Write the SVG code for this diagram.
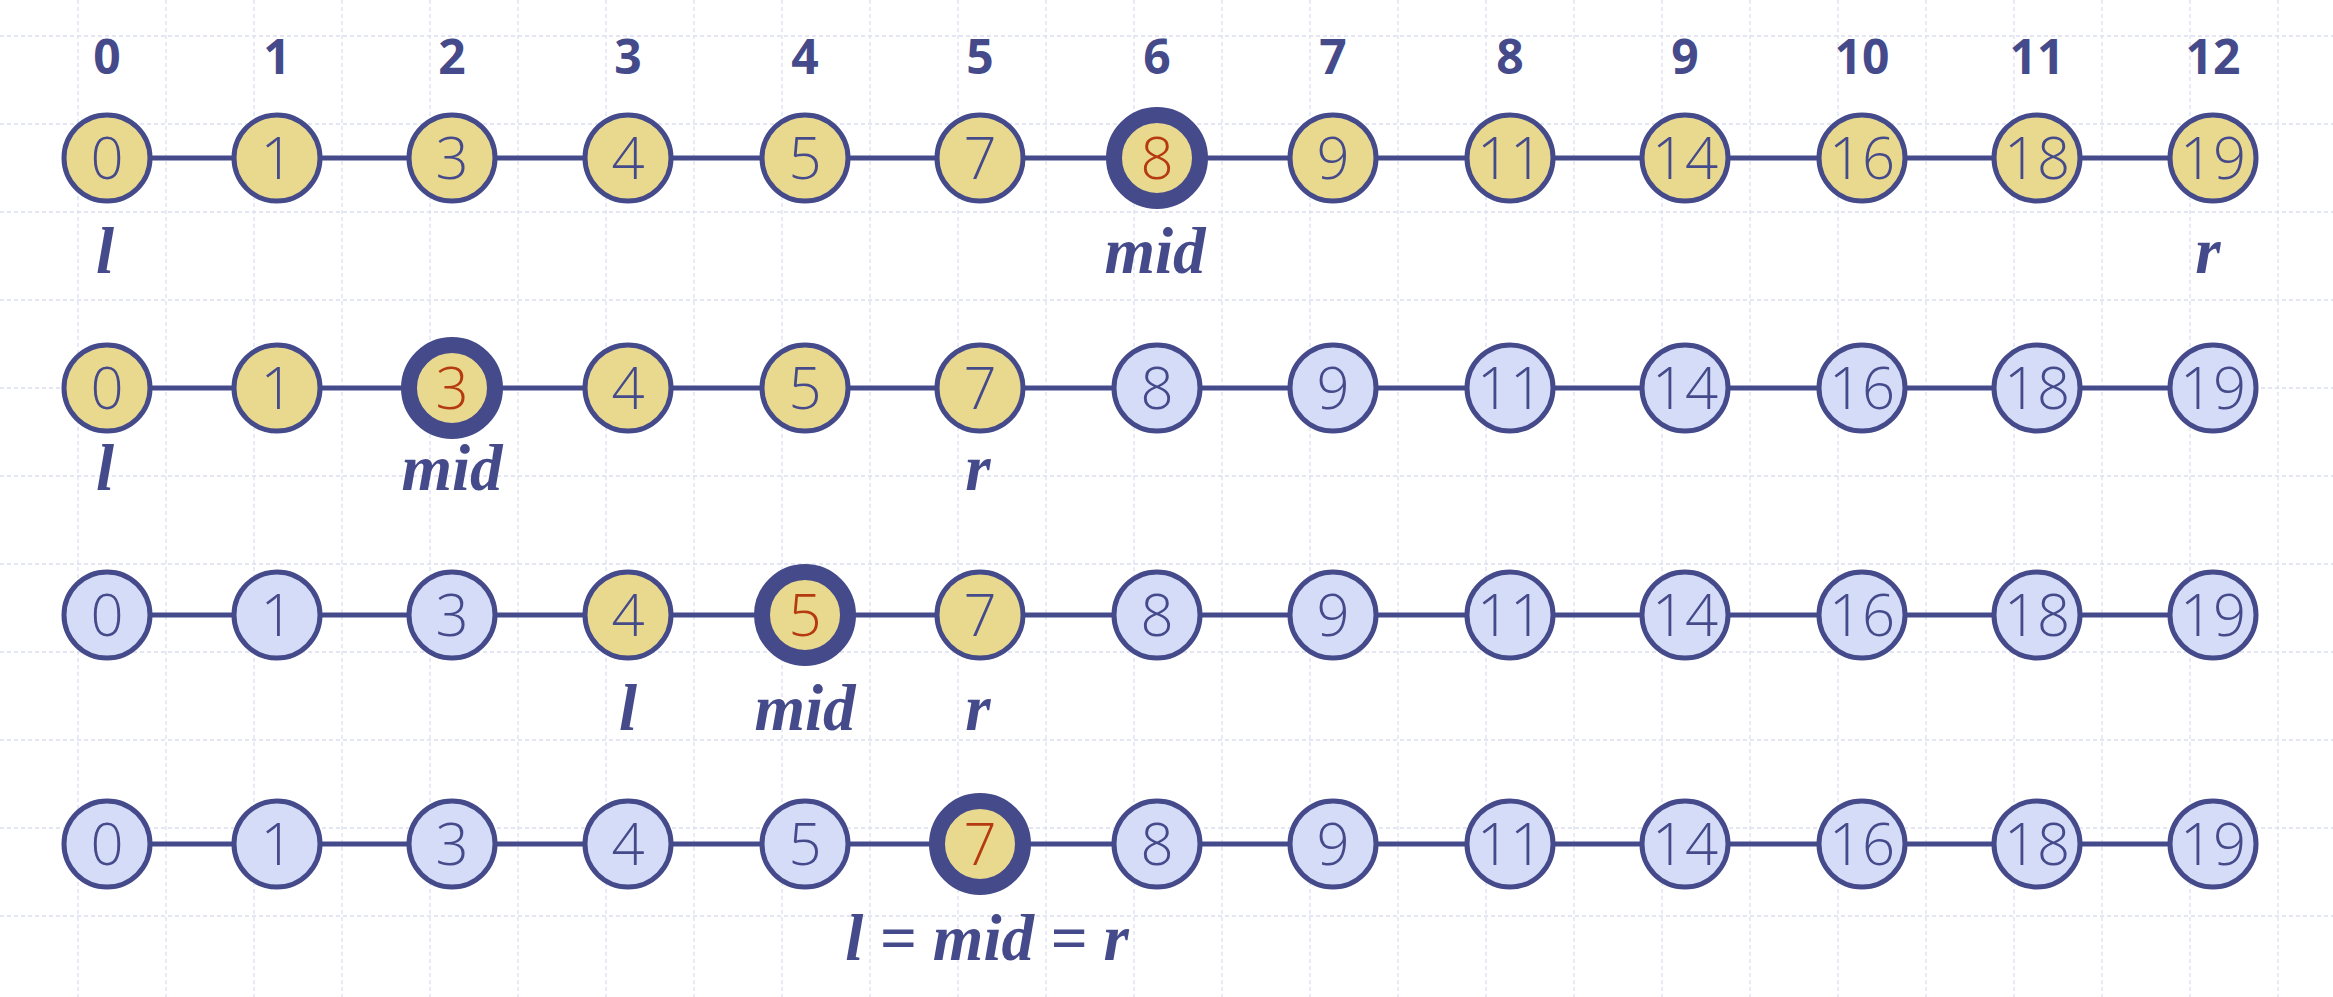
<svg xmlns="http://www.w3.org/2000/svg" width="2333" height="997" viewBox="0 0 2333 997">
<style>
.grid line{stroke:#dcdff0;stroke-width:1.3;stroke-dasharray:4 3;}
.edge{stroke:#454a8b;stroke-width:5;}
.y{fill:#e9d98f;stroke:#454a8b;stroke-width:5;}
.b{fill:#d4dcf8;stroke:#454a8b;stroke-width:5;}
.h{stroke-width:16;}
.v{font-family:"Open Sans","Noto Sans",sans-serif;font-weight:300;font-size:58px;fill:#454a8b;text-anchor:middle;}
.red{fill:#b53a10;}
.idx{font-family:"Open Sans","Noto Sans",sans-serif;font-weight:700;font-size:48px;fill:#454a8b;text-anchor:middle;}
.lab{font-family:"Liberation Serif","Times New Roman",serif;font-weight:700;font-style:italic;font-size:65px;fill:#454a8b;text-anchor:middle;}
</style>
<rect width="2333" height="997" fill="#ffffff"/>
<g class="grid">
<line x1="78" y1="0" x2="78" y2="997"/><line x1="166" y1="0" x2="166" y2="997"/><line x1="254" y1="0" x2="254" y2="997"/><line x1="342" y1="0" x2="342" y2="997"/><line x1="430" y1="0" x2="430" y2="997"/><line x1="518" y1="0" x2="518" y2="997"/><line x1="606" y1="0" x2="606" y2="997"/><line x1="694" y1="0" x2="694" y2="997"/><line x1="782" y1="0" x2="782" y2="997"/><line x1="870" y1="0" x2="870" y2="997"/><line x1="958" y1="0" x2="958" y2="997"/><line x1="1046" y1="0" x2="1046" y2="997"/><line x1="1134" y1="0" x2="1134" y2="997"/><line x1="1222" y1="0" x2="1222" y2="997"/><line x1="1310" y1="0" x2="1310" y2="997"/><line x1="1398" y1="0" x2="1398" y2="997"/><line x1="1486" y1="0" x2="1486" y2="997"/><line x1="1574" y1="0" x2="1574" y2="997"/><line x1="1662" y1="0" x2="1662" y2="997"/><line x1="1750" y1="0" x2="1750" y2="997"/><line x1="1838" y1="0" x2="1838" y2="997"/><line x1="1926" y1="0" x2="1926" y2="997"/><line x1="2014" y1="0" x2="2014" y2="997"/><line x1="2102" y1="0" x2="2102" y2="997"/><line x1="2190" y1="0" x2="2190" y2="997"/><line x1="2278" y1="0" x2="2278" y2="997"/>
<line x1="0" y1="36" x2="2333" y2="36"/><line x1="0" y1="124" x2="2333" y2="124"/><line x1="0" y1="212" x2="2333" y2="212"/><line x1="0" y1="300" x2="2333" y2="300"/><line x1="0" y1="388" x2="2333" y2="388"/><line x1="0" y1="476" x2="2333" y2="476"/><line x1="0" y1="564" x2="2333" y2="564"/><line x1="0" y1="652" x2="2333" y2="652"/><line x1="0" y1="740" x2="2333" y2="740"/><line x1="0" y1="828" x2="2333" y2="828"/><line x1="0" y1="916" x2="2333" y2="916"/>
</g>
<g id="indices" class="idx">
<text x="107" y="74">0</text><text x="277" y="74">1</text><text x="452" y="74">2</text><text x="628" y="74">3</text><text x="805" y="74">4</text><text x="980" y="74">5</text><text x="1157" y="74">6</text><text x="1333" y="74">7</text><text x="1510" y="74">8</text><text x="1685" y="74">9</text><text x="1862" y="74">10</text><text x="2037" y="74">11</text><text x="2213" y="74">12</text>
</g>
<g id="connectors" class="edge">
<line x1="107" y1="158" x2="2213" y2="158"/>
<line x1="107" y1="388" x2="2213" y2="388"/>
<line x1="107" y1="615" x2="2213" y2="615"/>
<line x1="107" y1="844" x2="2213" y2="844"/>
</g>
<g id="row1">
<g id="r1n0" transform="translate(107,158)"><circle class="y" r="43"/><text class="v" y="21">0</text></g>
<g id="r1n1" transform="translate(277,158)"><circle class="y" r="43"/><text class="v" y="21">1</text></g>
<g id="r1n2" transform="translate(452,158)"><circle class="y" r="43"/><text class="v" y="21">3</text></g>
<g id="r1n3" transform="translate(628,158)"><circle class="y" r="43"/><text class="v" y="21">4</text></g>
<g id="r1n4" transform="translate(805,158)"><circle class="y" r="43"/><text class="v" y="21">5</text></g>
<g id="r1n5" transform="translate(980,158)"><circle class="y" r="43"/><text class="v" y="21">7</text></g>
<g id="r1n6" transform="translate(1157,158)"><circle class="y h" r="43"/><text class="v red" y="21">8</text></g>
<g id="r1n7" transform="translate(1333,158)"><circle class="y" r="43"/><text class="v" y="21">9</text></g>
<g id="r1n8" transform="translate(1510,158)"><circle class="y" r="43"/><text class="v" y="21">11</text></g>
<g id="r1n9" transform="translate(1685,158)"><circle class="y" r="43"/><text class="v" y="21">14</text></g>
<g id="r1n10" transform="translate(1862,158)"><circle class="y" r="43"/><text class="v" y="21">16</text></g>
<g id="r1n11" transform="translate(2037,158)"><circle class="y" r="43"/><text class="v" y="21">18</text></g>
<g id="r1n12" transform="translate(2213,158)"><circle class="y" r="43"/><text class="v" y="21">19</text></g>
</g>
<g id="row2">
<g id="r2n0" transform="translate(107,388)"><circle class="y" r="43"/><text class="v" y="21">0</text></g>
<g id="r2n1" transform="translate(277,388)"><circle class="y" r="43"/><text class="v" y="21">1</text></g>
<g id="r2n2" transform="translate(452,388)"><circle class="y h" r="43"/><text class="v red" y="21">3</text></g>
<g id="r2n3" transform="translate(628,388)"><circle class="y" r="43"/><text class="v" y="21">4</text></g>
<g id="r2n4" transform="translate(805,388)"><circle class="y" r="43"/><text class="v" y="21">5</text></g>
<g id="r2n5" transform="translate(980,388)"><circle class="y" r="43"/><text class="v" y="21">7</text></g>
<g id="r2n6" transform="translate(1157,388)"><circle class="b" r="43"/><text class="v" y="21">8</text></g>
<g id="r2n7" transform="translate(1333,388)"><circle class="b" r="43"/><text class="v" y="21">9</text></g>
<g id="r2n8" transform="translate(1510,388)"><circle class="b" r="43"/><text class="v" y="21">11</text></g>
<g id="r2n9" transform="translate(1685,388)"><circle class="b" r="43"/><text class="v" y="21">14</text></g>
<g id="r2n10" transform="translate(1862,388)"><circle class="b" r="43"/><text class="v" y="21">16</text></g>
<g id="r2n11" transform="translate(2037,388)"><circle class="b" r="43"/><text class="v" y="21">18</text></g>
<g id="r2n12" transform="translate(2213,388)"><circle class="b" r="43"/><text class="v" y="21">19</text></g>
</g>
<g id="row3">
<g id="r3n0" transform="translate(107,615)"><circle class="b" r="43"/><text class="v" y="21">0</text></g>
<g id="r3n1" transform="translate(277,615)"><circle class="b" r="43"/><text class="v" y="21">1</text></g>
<g id="r3n2" transform="translate(452,615)"><circle class="b" r="43"/><text class="v" y="21">3</text></g>
<g id="r3n3" transform="translate(628,615)"><circle class="y" r="43"/><text class="v" y="21">4</text></g>
<g id="r3n4" transform="translate(805,615)"><circle class="y h" r="43"/><text class="v red" y="21">5</text></g>
<g id="r3n5" transform="translate(980,615)"><circle class="y" r="43"/><text class="v" y="21">7</text></g>
<g id="r3n6" transform="translate(1157,615)"><circle class="b" r="43"/><text class="v" y="21">8</text></g>
<g id="r3n7" transform="translate(1333,615)"><circle class="b" r="43"/><text class="v" y="21">9</text></g>
<g id="r3n8" transform="translate(1510,615)"><circle class="b" r="43"/><text class="v" y="21">11</text></g>
<g id="r3n9" transform="translate(1685,615)"><circle class="b" r="43"/><text class="v" y="21">14</text></g>
<g id="r3n10" transform="translate(1862,615)"><circle class="b" r="43"/><text class="v" y="21">16</text></g>
<g id="r3n11" transform="translate(2037,615)"><circle class="b" r="43"/><text class="v" y="21">18</text></g>
<g id="r3n12" transform="translate(2213,615)"><circle class="b" r="43"/><text class="v" y="21">19</text></g>
</g>
<g id="row4">
<g id="r4n0" transform="translate(107,844)"><circle class="b" r="43"/><text class="v" y="21">0</text></g>
<g id="r4n1" transform="translate(277,844)"><circle class="b" r="43"/><text class="v" y="21">1</text></g>
<g id="r4n2" transform="translate(452,844)"><circle class="b" r="43"/><text class="v" y="21">3</text></g>
<g id="r4n3" transform="translate(628,844)"><circle class="b" r="43"/><text class="v" y="21">4</text></g>
<g id="r4n4" transform="translate(805,844)"><circle class="b" r="43"/><text class="v" y="21">5</text></g>
<g id="r4n5" transform="translate(980,844)"><circle class="y h" r="43"/><text class="v red" y="21">7</text></g>
<g id="r4n6" transform="translate(1157,844)"><circle class="b" r="43"/><text class="v" y="21">8</text></g>
<g id="r4n7" transform="translate(1333,844)"><circle class="b" r="43"/><text class="v" y="21">9</text></g>
<g id="r4n8" transform="translate(1510,844)"><circle class="b" r="43"/><text class="v" y="21">11</text></g>
<g id="r4n9" transform="translate(1685,844)"><circle class="b" r="43"/><text class="v" y="21">14</text></g>
<g id="r4n10" transform="translate(1862,844)"><circle class="b" r="43"/><text class="v" y="21">16</text></g>
<g id="r4n11" transform="translate(2037,844)"><circle class="b" r="43"/><text class="v" y="21">18</text></g>
<g id="r4n12" transform="translate(2213,844)"><circle class="b" r="43"/><text class="v" y="21">19</text></g>
</g>
<g id="labels" class="lab">
<text x="105" y="273">l</text><text x="1155" y="273">mid</text><text x="2208" y="273">r</text>
<text x="105" y="490">l</text><text x="452" y="490">mid</text><text x="978" y="490">r</text>
<text x="628" y="730">l</text><text x="805" y="730">mid</text><text x="978" y="730">r</text>
<text x="987" y="960">l = mid = r</text>
</g>
</svg>
